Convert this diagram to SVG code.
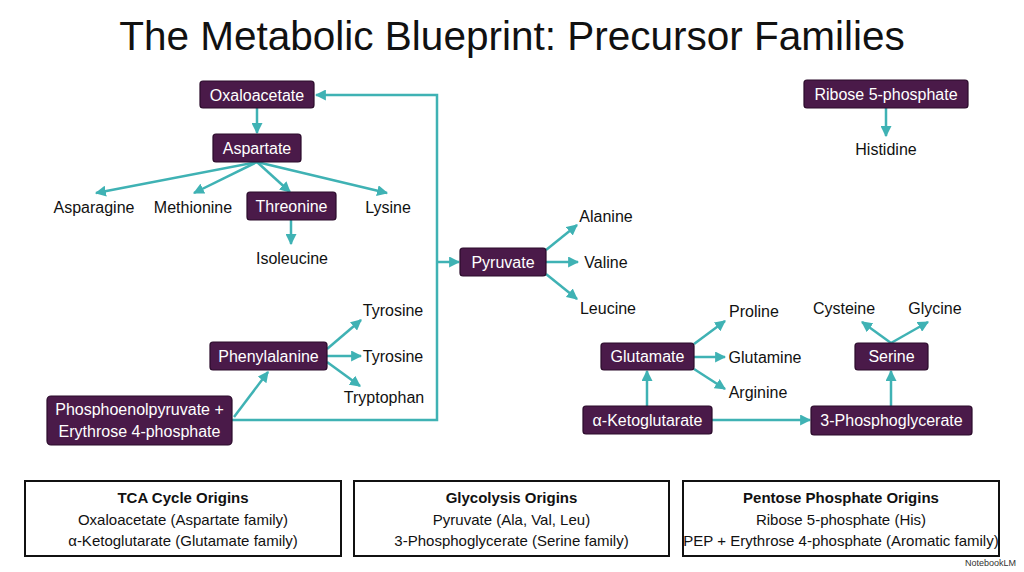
<svg xmlns="http://www.w3.org/2000/svg" width="1024" height="572" viewBox="0 0 1024 572">
<style>
.title{font-family:"Liberation Sans",Arial,sans-serif;font-size:40.5px;fill:#111;}
.box rect{fill:#4a1a49;stroke:#2a0a2a;stroke-width:1.2;}
.box text{font-family:"Liberation Sans",Arial,sans-serif;font-size:16px;fill:#fff;text-anchor:middle;}
.lbl{font-family:"Liberation Sans",Arial,sans-serif;font-size:16px;fill:#111;text-anchor:middle;}
.conn line,.conn polyline{stroke:#3fb2b4;stroke-width:2.5;fill:none;}
.legend rect{fill:#fff;stroke:#111;stroke-width:2;}
.legend text{font-family:"Liberation Sans",Arial,sans-serif;font-size:15px;fill:#111;text-anchor:middle;}
.legend text.h{font-weight:bold;}
</style>
<defs>
<marker id="ah" viewBox="0 0 10 10" refX="9" refY="5" markerWidth="11" markerHeight="11" markerUnits="userSpaceOnUse" orient="auto">
<path d="M0,0 L10,5 L0,10 Z" fill="#3fb2b4"/>
</marker>
</defs>
<rect width="1024" height="572" fill="#fff"/>
<text class="title" x="512" y="50" text-anchor="middle">The Metabolic Blueprint: Precursor Families</text>

<g class="conn">
<line x1="257" y1="108" x2="257" y2="133" marker-end="url(#ah)"/>
<line x1="257" y1="162" x2="96" y2="193" marker-end="url(#ah)"/>
<line x1="257" y1="162" x2="194" y2="193" marker-end="url(#ah)"/>
<line x1="257" y1="162" x2="290" y2="192" marker-end="url(#ah)"/>
<line x1="257" y1="162" x2="387" y2="193" marker-end="url(#ah)"/>
<line x1="291" y1="220" x2="291" y2="244" marker-end="url(#ah)"/>
<line x1="234" y1="417" x2="268" y2="372" marker-end="url(#ah)"/>
<line x1="327" y1="349" x2="361" y2="320" marker-end="url(#ah)"/>
<line x1="327" y1="356" x2="361" y2="356" marker-end="url(#ah)"/>
<line x1="327" y1="362" x2="360" y2="386" marker-end="url(#ah)"/>
<polyline points="232,420 437,420 437,95 316,95" marker-end="url(#ah)"/>
<line x1="437" y1="262" x2="459" y2="262" marker-end="url(#ah)"/>
<line x1="546" y1="250" x2="577" y2="225" marker-end="url(#ah)"/>
<line x1="546" y1="262" x2="578" y2="262" marker-end="url(#ah)"/>
<line x1="546" y1="274" x2="577" y2="299" marker-end="url(#ah)"/>
<line x1="694" y1="344" x2="725" y2="321" marker-end="url(#ah)"/>
<line x1="694" y1="357" x2="725" y2="357" marker-end="url(#ah)"/>
<line x1="694" y1="369" x2="725" y2="389" marker-end="url(#ah)"/>
<line x1="647" y1="406" x2="647" y2="371" marker-end="url(#ah)"/>
<line x1="712" y1="420" x2="810" y2="420" marker-end="url(#ah)"/>
<line x1="891" y1="406" x2="891" y2="371" marker-end="url(#ah)"/>
<line x1="891" y1="343" x2="862" y2="322" marker-end="url(#ah)"/>
<line x1="891" y1="343" x2="928" y2="322" marker-end="url(#ah)"/>
<line x1="886" y1="108" x2="886" y2="136" marker-end="url(#ah)"/>
</g>

<g id="n-oxaloacetate" class="box"><rect x="200" y="81" width="114" height="27" rx="3"/><text x="257" y="100.5">Oxaloacetate</text></g>
<g id="n-aspartate" class="box"><rect x="213" y="134" width="88" height="28" rx="3"/><text x="257" y="153.5">Aspartate</text></g>
<g id="n-threonine" class="box"><rect x="247" y="192" width="89" height="28" rx="3"/><text x="291.5" y="211.5">Threonine</text></g>
<g id="n-phenylalanine" class="box"><rect x="210" y="342" width="117" height="28" rx="3"/><text x="268.5" y="361.5">Phenylalanine</text></g>
<g id="n-pep" class="box"><rect x="47" y="396" width="185" height="49" rx="4"/><text x="139.5" y="415">Phosphoenolpyruvate +</text><text x="139.5" y="437">Erythrose 4-phosphate</text></g>
<g id="n-pyruvate" class="box"><rect x="460" y="248" width="86" height="28" rx="3"/><text x="503" y="267.5">Pyruvate</text></g>
<g id="n-glutamate" class="box"><rect x="601" y="343" width="93" height="27" rx="3"/><text x="647.5" y="362">Glutamate</text></g>
<g id="n-akg" class="box"><rect x="583" y="406" width="129" height="28" rx="3"/><text x="647.5" y="425.5">α-Ketoglutarate</text></g>
<g id="n-serine" class="box"><rect x="855" y="343" width="73" height="27" rx="3"/><text x="891.5" y="362">Serine</text></g>
<g id="n-3pg" class="box"><rect x="811" y="406" width="161" height="29" rx="3"/><text x="891.5" y="426">3-Phosphoglycerate</text></g>
<g id="n-ribose" class="box"><rect x="804" y="80" width="164" height="28" rx="3"/><text x="886" y="99.5">Ribose 5-phosphate</text></g>

<g id="n-asparagine"><text class="lbl" x="94" y="213">Asparagine</text></g>
<g id="n-methionine"><text class="lbl" x="193" y="213">Methionine</text></g>
<g id="n-lysine"><text class="lbl" x="388" y="213">Lysine</text></g>
<g id="n-isoleucine"><text class="lbl" x="292" y="264">Isoleucine</text></g>
<g id="n-tyrosine1"><text class="lbl" x="393" y="316">Tyrosine</text></g>
<g id="n-tyrosine2"><text class="lbl" x="393" y="362">Tyrosine</text></g>
<g id="n-tryptophan"><text class="lbl" x="384" y="403">Tryptophan</text></g>
<g id="n-alanine"><text class="lbl" x="606" y="222">Alanine</text></g>
<g id="n-valine"><text class="lbl" x="606" y="268">Valine</text></g>
<g id="n-leucine"><text class="lbl" x="608" y="314">Leucine</text></g>
<g id="n-proline"><text class="lbl" x="754" y="317">Proline</text></g>
<g id="n-glutamine"><text class="lbl" x="765" y="363">Glutamine</text></g>
<g id="n-arginine"><text class="lbl" x="758" y="398">Arginine</text></g>
<g id="n-cysteine"><text class="lbl" x="844" y="314">Cysteine</text></g>
<g id="n-glycine"><text class="lbl" x="935" y="314">Glycine</text></g>
<g id="n-histidine"><text class="lbl" x="886" y="155">Histidine</text></g>

<g id="legend-tca" class="legend"><rect x="25" y="481" width="316" height="75"/><text class="h" x="183" y="503">TCA Cycle Origins</text><text x="183" y="525">Oxaloacetate (Aspartate family)</text><text x="183" y="546">α-Ketoglutarate (Glutamate family)</text></g>
<g id="legend-gly" class="legend"><rect x="354" y="481" width="315" height="75"/><text class="h" x="511.5" y="503">Glycolysis Origins</text><text x="511.5" y="525">Pyruvate (Ala, Val, Leu)</text><text x="511.5" y="546">3-Phosphoglycerate (Serine family)</text></g>
<g id="legend-ppp" class="legend"><rect x="683" y="481" width="316" height="75"/><text class="h" x="841" y="503">Pentose Phosphate Origins</text><text x="841" y="525">Ribose 5-phosphate (His)</text><text x="841" y="546">PEP + Erythrose 4-phosphate (Aromatic family)</text></g>

<text x="1016" y="566" font-family="Liberation Sans, Arial, sans-serif" font-size="9" fill="#333" text-anchor="end">NotebookLM</text>
</svg>
